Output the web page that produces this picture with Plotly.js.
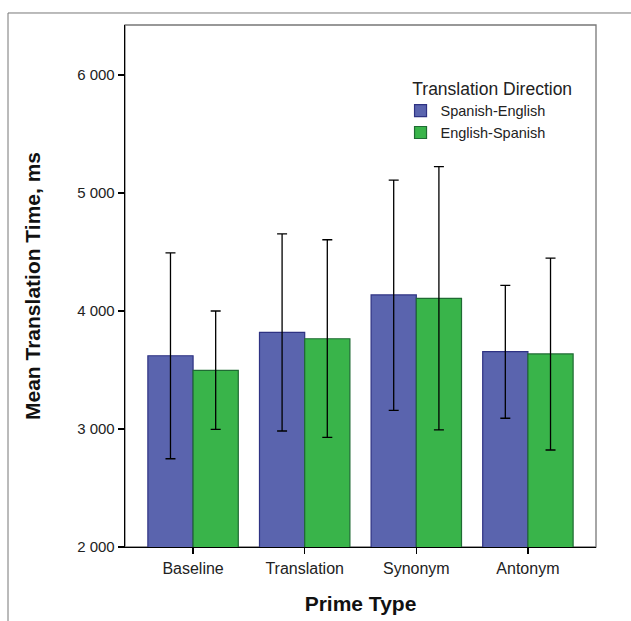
<!DOCTYPE html>
<html>
<head>
<meta charset="utf-8">
<script src="https://cdn.plot.ly/plotly-3.0.1.min.js"></script>
<style>html,body{margin:0;padding:0;background:#fff;}#chart{width:631px;height:621px;}</style>
</head>
<body>
<div id="chart"></div>
<script>
const categories = ["Baseline", "Translation", "Synonym", "Antonym"];
const seriesNames = ["Spanish-English", "English-Spanish"];
const spanishEnglish = [3621, 3819, 4136, 3655];
const spanishEnglishUpper = [4492, 4653, 5110, 4218];
const spanishEnglishLower = [2748, 2983, 3158, 3091];
const englishSpanish = [3497, 3765, 4107, 3636];
const englishSpanishUpper = [4000, 4604, 5223, 4449];
const englishSpanishLower = [2997, 2929, 2992, 2822];
const yTicks = [2000, 3000, 4000, 5000, 6000];

function errs(vals, up, lo) {
  return {
    type: 'data', symmetric: false,
    array: up.map((u, i) => u - vals[i]),
    arrayminus: vals.map((v, i) => v - lo[i]),
    color: '#000', thickness: 1.3, width: 5
  };
}

const traces = [
  {
    type: 'bar', name: seriesNames[0], x: categories, y: spanishEnglish,
    marker: {color: '#5A64AE', line: {color: '#2E3283', width: 1.2}},
    error_y: errs(spanishEnglish, spanishEnglishUpper, spanishEnglishLower)
  },
  {
    type: 'bar', name: seriesNames[1], x: categories, y: englishSpanish,
    marker: {color: '#39B44A', line: {color: '#1F6B33', width: 1.2}},
    error_y: errs(englishSpanish, englishSpanishUpper, englishSpanishLower)
  }
];

const ff = '"Liberation Sans", Arial, sans-serif';

const layout = {
  width: 631, height: 621,
  margin: {l: 125, r: 35, t: 25, b: 74},
  paper_bgcolor: '#fff', plot_bgcolor: '#fff',
  font: {family: ff, color: '#222', size: 15},
  separators: '. ',
  barmode: 'group', bargap: 0.19, bargroupgap: 0,
  showlegend: true,
  legend: {
    x: 0.585, y: 0.91, xanchor: 'left', yanchor: 'top',
    bgcolor: 'rgba(0,0,0,0)',
    font: {family: ff, size: 14.5, color: '#222'},
    title: {text: '\u00a0\u00a0Translation Direction', side: 'top', font: {family: ff, size: 17.5, color: '#222'}},
    tracegroupgap: 0
  },
  xaxis: {
    type: 'category', range: [-0.61, 3.61],
    showline: true, linecolor: '#000', linewidth: 1.3, mirror: false,
    ticks: 'outside', ticklen: 6, tickcolor: '#000', tickwidth: 1.3,
    showgrid: false, zeroline: false,
    tickfont: {family: ff, size: 16, color: '#222'},
    title: {text: 'Prime Type', font: {family: ff, size: 21, color: '#111', weight: 'bold'}, standoff: 20}
  },
  yaxis: {
    range: [2000, 6424],
    tickvals: yTicks, tickformat: ',d',
    showline: true, linecolor: '#000', linewidth: 1.3, mirror: false,
    ticks: 'outside', ticklen: 6, tickcolor: '#000', tickwidth: 1.3,
    showgrid: false, zeroline: false,
    tickfont: {family: ff, size: 15, color: '#222'},
    title: {text: 'Mean Translation Time, ms', font: {family: ff, size: 21, color: '#111', weight: 'bold'}, standoff: 30}
  },
  shapes: [
    {type: 'rect', xref: 'paper', yref: 'paper', x0: 0, x1: 1, y0: 0, y1: 1,
     line: {color: '#777', width: 1.3}, fillcolor: 'rgba(0,0,0,0)', layer: 'below'},
    {type: 'rect', xref: 'paper', yref: 'paper', x0: -0.2484, x1: 1.2, y0: -0.3, y1: 1.023,
     line: {color: '#777', width: 1}, fillcolor: 'rgba(0,0,0,0)', layer: 'below'}
  ]
};

Plotly.newPlot('chart', traces, layout, {displayModeBar: false, staticPlot: true});
</script>
</body>
</html>
